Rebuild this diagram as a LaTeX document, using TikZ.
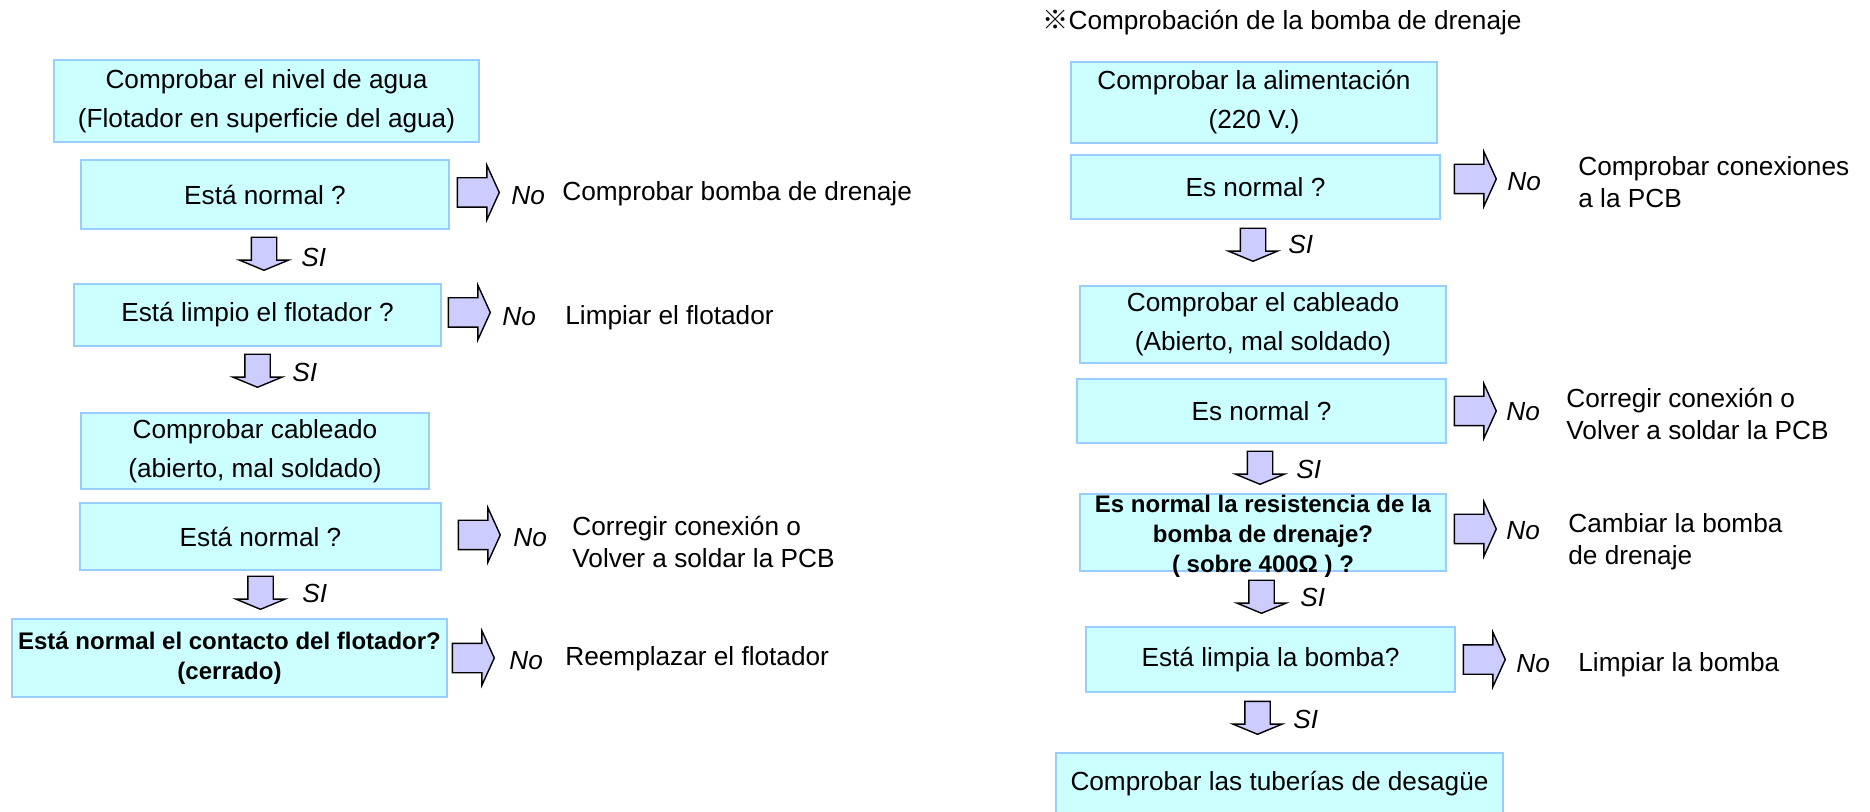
\documentclass[tikz,border=0pt]{standalone}
\usepackage{fontspec}
\setmainfont{Liberation Sans}
\newfontfamily\cjkfont{Noto Sans CJK JP}
\usetikzlibrary{positioning, shapes.arrows}
\definecolor{boxfill}{HTML}{CCFFFF}
\definecolor{boxline}{HTML}{99CCFF}
\definecolor{arrowfill}{HTML}{CCCCFF}

\tikzset{
  stepbox/.style={rectangle, fill=boxfill, draw=boxline, line width=0.6pt, inner sep=0pt,
    align=center, font=\fontsize{13.1}{19.5}\selectfont},
  boldbox/.style={stepbox, font=\fontsize{12}{15}\selectfont\bfseries},
  boxsize/.style 2 args={minimum width=#1*0.5pt, minimum height=#2*0.5pt},
  noarrow/.style={single arrow, draw=black, fill=arrowfill, line width=0.7pt,
    inner xsep=0pt, inner ysep=7pt, minimum height=21pt, minimum width=26.5pt,
    single arrow head extend=6.25pt, single arrow tip angle=131, anchor=tail},
  siarrow/.style={single arrow, draw=black, fill=arrowfill, line width=0.7pt,
    inner xsep=0pt, inner ysep=6pt, minimum height=16.5pt, minimum width=24pt,
    single arrow head extend=6pt, single arrow tip angle=135, rotate=-90, anchor=tail},
  answer/.style={font=\fontsize{13.1}{16}\selectfont\itshape, inner sep=0pt, anchor=west},
  remedy/.style={font=\fontsize{13.1}{16}\selectfont, inner sep=0pt, anchor=west, align=left},
}

\begin{document}
\begin{tikzpicture}[x=0.5pt, y=-0.5pt]
  \useasboundingbox (0,0) rectangle (1870,812);
  \fill[white] (0,0) rectangle (1870,812);
  \clip (0,0) rectangle (1870,812);

  % left column: water level
  \node[stepbox, boxsize={425}{82}] (lvl) at (266.5,101) {Comprobar el nivel de agua\\(Flotador en superficie del agua)};
  \node[stepbox, boxsize={368}{69}] (lvlok) at (265,194.5) {Está normal ?};
  \node[stepbox, boxsize={367}{62}] (float) at (257.5,315) {Está limpio el flotador ?};
  \node[stepbox, boxsize={348}{76}] (wire) at (255,451) {Comprobar cableado\\(abierto, mal soldado)};
  \node[stepbox, boxsize={361}{67}] (wireok) at (260.5,536.5) {Está normal ?};
  \node[boldbox, boxsize={435}{78}] (contact) at (229.5,658) {Está normal el contacto del flotador?\\(cerrado)};

  \node[noarrow] (lvlno) at ([xshift=3.5pt, yshift=1pt]lvlok.east) {};
  \node[noarrow] (floatno) at ([xshift=3pt, yshift=1.25pt]float.east) {};
  \node[noarrow] (wireno) at ([xshift=8pt, yshift=0.75pt]wireok.east) {};
  \node[noarrow] (contactno) at ([xshift=2pt]contact.east) {};

  \node[siarrow] (lvlsi) at ([xshift=-0.5pt, yshift=-3.5pt]lvlok.south) {};
  \node[siarrow] (floatsi) at ([yshift=-3.5pt]float.south) {};
  \node[siarrow] (wiresi) at ([yshift=-2.5pt]wireok.south) {};

  \node[answer] (lvlnotxt) at (511,196) {No};
  \node[answer] (floatnotxt) at (502,317) {No};
  \node[answer] (wirenotxt) at (513,538) {No};
  \node[answer] (contactnotxt) at (509,661) {No};
  \node[answer] (lvlsitxt) at (301,257) {SI};
  \node[answer] (floatsitxt) at (292,372) {SI};
  \node[answer] (wiresitxt) at (302,593) {SI};

  \node[remedy] (pumpchk) at (562,194) {Comprobar bomba de drenaje};
  \node[remedy] (clean) at (565,318) {Limpiar el flotador};
  \node[remedy] (resolder) at (572,542) {Corregir conexión o\\Volver a soldar la PCB};
  \node[remedy] (replace) at (565,659) {Reemplazar el flotador};

  % right column: drain pump
  \node[anchor=west, inner sep=0pt, font=\fontsize{13.1}{15}\selectfont] (title) at (1042,23) {{\cjkfont ※}Comprobación de la bomba de drenaje};

  \node[stepbox, boxsize={366}{81}] (power) at (1254,102.5) {Comprobar la alimentación\\(220 V.)};
  \node[stepbox, boxsize={369}{64}] (powerok) at (1255.5,187) {Es normal ?};
  \node[stepbox, boxsize={366}{77}] (cable) at (1263,324.5) {Comprobar el cableado\\(Abierto, mal soldado)};
  \node[stepbox, boxsize={369}{64}] (cableok) at (1261.5,411) {Es normal ?};
  \node[stepbox, boxsize={366}{77}] (resist) at (1263,532.5) {};
  \node[boldbox, fill=none, draw=none] (resisttxt) at ([yshift=-1.75pt]resist.center) {Es normal la resistencia de la\\bomba de drenaje?\\( sobre 400Ω ) ?};
  \node[stepbox, boxsize={369}{65}] (pump) at (1270.5,659.5) {Está limpia la bomba?};
  \node[stepbox, boxsize={447}{62}] (pipes) at (1279.5,784) {Comprobar las tuberías de desagüe};

  \node[noarrow] (powerno) at ([xshift=6.5pt, yshift=4pt]powerok.east) {};
  \node[noarrow] (cableno) at ([xshift=3.5pt]cableok.east) {};
  \node[noarrow] (resistno) at ([xshift=3.5pt, yshift=1.75pt]resist.east) {};
  \node[noarrow] (pumpno) at ([xshift=3.5pt]pump.east) {};

  \node[siarrow] (powersi) at ([xshift=-1.25pt, yshift=-4pt]powerok.south) {};
  \node[siarrow] (cablesi) at ([xshift=-0.75pt, yshift=-3.5pt]cableok.south) {};
  \node[siarrow] (resistsi) at ([xshift=-0.75pt, yshift=-4pt]resist.south) {};
  \node[siarrow] (pumpsi) at ([xshift=-6.5pt, yshift=-4pt]pump.south) {};

  \node[answer] (powernotxt) at (1507,182) {No};
  \node[answer] (cablenotxt) at (1506,412) {No};
  \node[answer] (resistnotxt) at (1506,531) {No};
  \node[answer] (pumpnotxt) at (1516,664) {No};
  \node[answer] (powersitxt) at (1288,244) {SI};
  \node[answer] (cablesitxt) at (1296,469) {SI};
  \node[answer] (resistsitxt) at (1300,597) {SI};
  \node[answer] (pumpsitxt) at (1293,719) {SI};

  \node[remedy] (pcbchk) at (1578,182) {Comprobar conexiones\\a la PCB};
  \node[remedy] (resolder2) at (1566,414) {Corregir conexión o\\Volver a soldar la PCB};
  \node[remedy] (newpump) at (1568,542) {Cambiar la bomba\\de drenaje};
  \node[remedy] (cleanpump) at (1578,665) {Limpiar la bomba};
\end{tikzpicture}
\end{document}
